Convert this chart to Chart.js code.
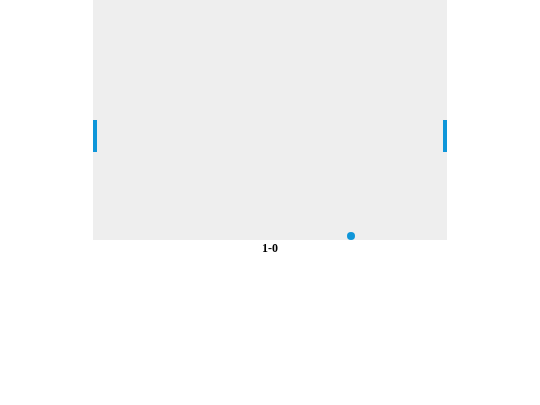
<!DOCTYPE html>
<html>
<head>
<meta charset="utf-8">
<script src="https://cdn.jsdelivr.net/npm/chart.js@4"></script>
<style>
  html, body { margin: 0; padding: 0; background: #fff; }
  #wrap { width: 540px; height: 405px; }
</style>
</head>
<body>
<div id="wrap"><canvas id="pong" width="540" height="405"></canvas></div>
<script>
// field is 354 x 240 units, y counted from the top
const fieldSize = [354, 240];
const leftPaddle = [[2, 120], [2, 152]];
const rightPaddle = [[352, 120], [352, 152]];
const ball = [[258, 236]];
const score = ['1-0'];

const blue = '#0f96d9';

// gray field + score under it
const fieldPlugin = {
    id: 'field',
    beforeDraw(chart) {
        const a = chart.chartArea;
        const ctx = chart.ctx;
        ctx.save();
        ctx.fillStyle = '#eeeeee';
        ctx.fillRect(a.left, a.top, a.right - a.left, a.bottom - a.top);
        ctx.restore();
    },
    afterDraw(chart) {
        const a = chart.chartArea;
        const ctx = chart.ctx;
        ctx.save();
        ctx.fillStyle = '#000';
        ctx.font = "bold 12px 'Liberation Serif'";
        ctx.textAlign = 'center';
        ctx.textBaseline = 'middle';
        ctx.fillText(score[0], (a.left + a.right) / 2, a.bottom + 9);
        ctx.restore();
    }
};

const toPts = arr => arr.map(p => ({ x: p[0], y: p[1] }));

new Chart(document.getElementById('pong').getContext('2d'), {
    type: 'scatter',
    data: {
        datasets: [
            {
                label: 'left',
                data: toPts(leftPaddle),
                showLine: true,
                borderColor: blue,
                borderWidth: 4,
                borderCapStyle: 'butt',
                pointRadius: 0
            },
            {
                label: 'right',
                data: toPts(rightPaddle),
                showLine: true,
                borderColor: blue,
                borderWidth: 4,
                borderCapStyle: 'butt',
                pointRadius: 0
            },
            {
                label: 'ball',
                data: toPts(ball),
                backgroundColor: blue,
                borderWidth: 0,
                pointRadius: 4
            }
        ]
    },
    options: {
        responsive: false,
        animation: false,
        devicePixelRatio: 1,
        clip: false,
        layout: { autoPadding: false, padding: { left: 93, right: 93, top: 0, bottom: 165 } },
        plugins: {
            legend: { display: false },
            tooltip: { enabled: false }
        },
        scales: {
            x: { type: 'linear', min: 0, max: fieldSize[0], display: false },
            y: { type: 'linear', min: 0, max: fieldSize[1], reverse: true, display: false }
        }
    },
    plugins: [fieldPlugin]
});
</script>
</body>
</html>
